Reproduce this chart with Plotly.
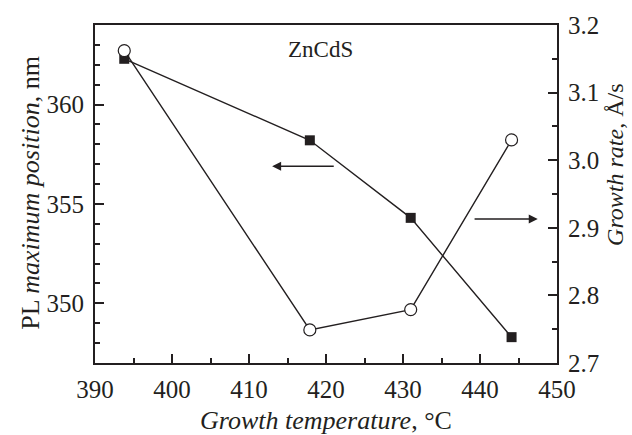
import plotly.graph_objects as go

# Data
temperature = [393.8, 417.9, 431.0, 444.1]          # Growth temperature, °C
pl_position = [362.3, 358.2, 354.3, 348.3]          # PL maximum position, nm
growth_rate = [3.162, 2.749, 2.779, 3.03]           # Growth rate, Å/s

x_ticks = [390, 400, 410, 420, 430, 440, 450]
y_ticks = [350, 355, 360]
y2_ticks = [2.7, 2.8, 2.9, 3.0, 3.1, 3.2]

INK = "#231f20"
FONT = "Liberation Serif, Times New Roman, serif"

fig = go.Figure()

fig.add_trace(go.Scatter(
    x=temperature, y=growth_rate, yaxis="y2", mode="lines+markers",
    line=dict(color=INK, width=1.4),
    marker=dict(symbol="circle", size=12, color="white",
                line=dict(color=INK, width=1.2)),
    showlegend=False, cliponaxis=False))

fig.add_trace(go.Scatter(
    x=temperature, y=pl_position, yaxis="y", mode="lines+markers",
    line=dict(color=INK, width=1.4),
    marker=dict(symbol="square", size=10, color=INK,
                line=dict(color=INK, width=0)),
    showlegend=False, cliponaxis=False))

axis_common = dict(showgrid=False, zeroline=False, showline=True,
                   linecolor=INK, linewidth=2, ticks="inside",
                   tickcolor=INK, tickwidth=1.5, ticklen=9,
                   tickfont=dict(family=FONT, size=25, color=INK))

fig.update_layout(
    width=632, height=435,
    font=dict(family=FONT, size=25, color=INK),
    margin=dict(l=95, r=75, t=20, b=72),
    paper_bgcolor="white", plot_bgcolor="white",
    xaxis=dict(range=[390, 450], tickvals=x_ticks, mirror=True,
               minor=dict(dtick=5, ticks="inside", ticklen=5,
                          tickcolor=INK, tickwidth=1.5),
               ticklabelstandoff=3, **axis_common),
    yaxis=dict(range=[347, 364], tickvals=y_ticks,
               minor=dict(dtick=1, ticks="inside", ticklen=5,
                          tickcolor=INK, tickwidth=1.5),
               ticklabelstandoff=4, **axis_common),
    yaxis2=dict(range=[2.7, 3.2], tickvals=y2_ticks, tickformat=".1f",
                overlaying="y", side="right",
                minor=dict(dtick=0.05, ticks="inside", ticklen=5,
                           tickcolor=INK, tickwidth=1.5),
                ticklabelstandoff=4, **axis_common),
    annotations=[
        dict(text="<i>Growth temperature</i>, °C", xref="paper", yref="paper",
             x=0.5, y=-0.17, xanchor="center", yanchor="middle",
             showarrow=False, font=dict(family=FONT, size=26, color=INK)),
        dict(text="PL <i>maximum position</i>, nm", xref="paper", yref="paper",
             x=-0.14, y=0.505, xanchor="center", yanchor="middle",
             textangle=-90, showarrow=False,
             font=dict(family=FONT, size=26, color=INK)),
        dict(text="<i>Growth rate</i>, Å/s", xref="paper", yref="paper",
             x=1.127, y=0.585, xanchor="center", yanchor="middle",
             textangle=-90, showarrow=False,
             font=dict(family=FONT, size=24, color=INK)),
        dict(text="ZnCdS", xref="paper", yref="paper",
             x=(320 - 95) / 462, y=(363 - 45) / 343,
             xanchor="center", yanchor="middle", showarrow=False,
             font=dict(family=FONT, size=23, color=INK)),
        dict(text="", x=413.0, y=356.9, xref="x", yref="y",
             ax=421.2, ay=356.9, axref="x", ayref="y",
             showarrow=True, arrowhead=2, arrowsize=1.2, arrowwidth=1.5,
             arrowcolor=INK),
        dict(text="", x=447.5, y=2.913, xref="x", yref="y2",
             ax=439.1, ay=2.913, axref="x", ayref="y2",
             showarrow=True, arrowhead=2, arrowsize=1.2, arrowwidth=1.5,
             arrowcolor=INK),
    ],
)

fig.write_html("out.html")
